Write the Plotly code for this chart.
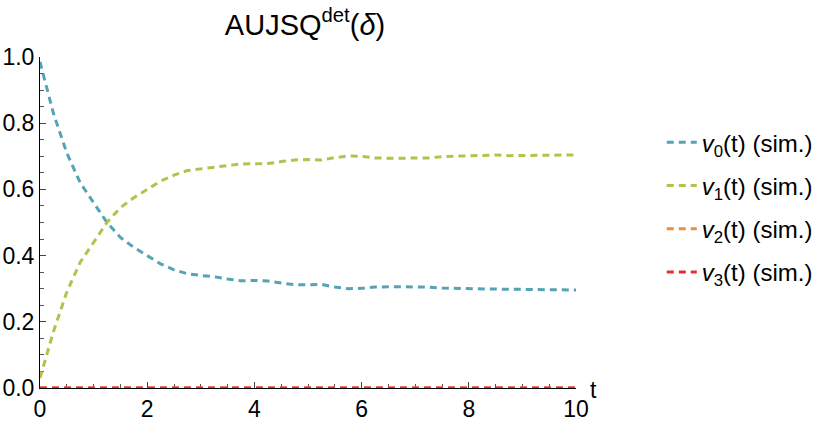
import plotly.graph_objects as go

# simulated fractions
t = [0, 0.25, 0.5, 0.75, 1, 1.25, 1.5, 1.75, 2, 2.25, 2.5, 2.75, 3, 3.25, 3.5, 3.75,
     4, 4.25, 4.5, 4.75, 5, 5.25, 5.5, 5.75, 6, 6.25, 6.5, 6.75, 7, 7.25, 7.5, 7.75,
     8, 8.25, 8.5, 8.75, 9, 9.25, 9.5, 9.75, 10]

v0 = [0.985, 0.83, 0.71, 0.62, 0.56, 0.50, 0.455, 0.425, 0.40, 0.375, 0.357, 0.345,
      0.340, 0.336, 0.329, 0.324, 0.325, 0.323, 0.317, 0.312, 0.312, 0.313, 0.305,
      0.300, 0.301, 0.305, 0.306, 0.306, 0.304, 0.305, 0.302, 0.301, 0.301, 0.300,
      0.297, 0.298, 0.298, 0.297, 0.297, 0.296, 0.296]

v1 = [0.03, 0.17, 0.29, 0.38, 0.44, 0.50, 0.545, 0.575, 0.60, 0.625, 0.643, 0.657,
      0.662, 0.666, 0.672, 0.677, 0.677, 0.678, 0.684, 0.689, 0.690, 0.689, 0.696,
      0.701, 0.700, 0.695, 0.694, 0.694, 0.696, 0.695, 0.699, 0.700, 0.700, 0.701,
      0.704, 0.702, 0.702, 0.703, 0.703, 0.704, 0.704]

v2 = [0.0] * len(t)
v3 = [0.0] * len(t)

series = [
    ("<i>v</i><sub>0</sub>(t) (sim.)", v0, "#56A3B5"),
    ("<i>v</i><sub>1</sub>(t) (sim.)", v1, "#B3C24A"),
    ("<i>v</i><sub>2</sub>(t) (sim.)", v2, "#F08C3A"),
    ("<i>v</i><sub>3</sub>(t) (sim.)", v3, "#E52E2E"),
]

FONT = "Liberation Sans, Arial, sans-serif"

fig = go.Figure()
for i, (name, ys, color) in enumerate(series):
    fig.add_trace(go.Scatter(
        x=t, y=ys, name=name, mode="lines",
        line=dict(color=color, width=3, dash="7px,5px"),
        legendgroup=str(i),
    ))

axis_common = dict(
    showgrid=False, zeroline=False, showline=True, linecolor="black", linewidth=1,
    ticks="inside", ticklen=6, tickcolor="#444", tickwidth=1,
    tickfont=dict(size=23, color="black", family=FONT),
    layer="below traces", automargin=False,
)

fig.update_xaxes(
    range=[0, 10], tickvals=[0, 2, 4, 6, 8, 10],
    minor=dict(dtick=0.5, ticks="inside", ticklen=4, tickcolor="#555"),
    **axis_common,
)
fig.update_yaxes(
    range=[0, 1], tickvals=[0, 0.2, 0.4, 0.6, 0.8, 1.0], tickformat=".1f",
    minor=dict(dtick=0.05, ticks="inside", ticklen=4, tickcolor="#555"),
    **axis_common,
)

fig.update_layout(
    width=830, height=428,
    margin=dict(l=40, r=254, t=57, b=40, autoexpand=False),
    paper_bgcolor="white", plot_bgcolor="white",
    font=dict(family=FONT, color="black", size=22),
    title=dict(text="AUJSQ<sup>det</sup>(<i>δ</i>)", x=0.3675, xanchor="center",
               y=0.943, yanchor="middle", font=dict(size=29, family=FONT)),
    legend=dict(x=1.16, xanchor="left", y=0.546, yanchor="middle",
                font=dict(size=24, family=FONT), tracegroupgap=9,
                bgcolor="rgba(0,0,0,0)"),
    annotations=[dict(text="t", xref="paper", yref="y", x=1, y=0, xanchor="left",
                      yanchor="bottom", xshift=12, yshift=-17, showarrow=False,
                      font=dict(size=23, family=FONT))],
)

# drop the browser's default body margin so the figure sits at the page corner
fig.write_html("out.html", config={"displayModeBar": False},
               post_script="document.body.style.margin = '0';")
